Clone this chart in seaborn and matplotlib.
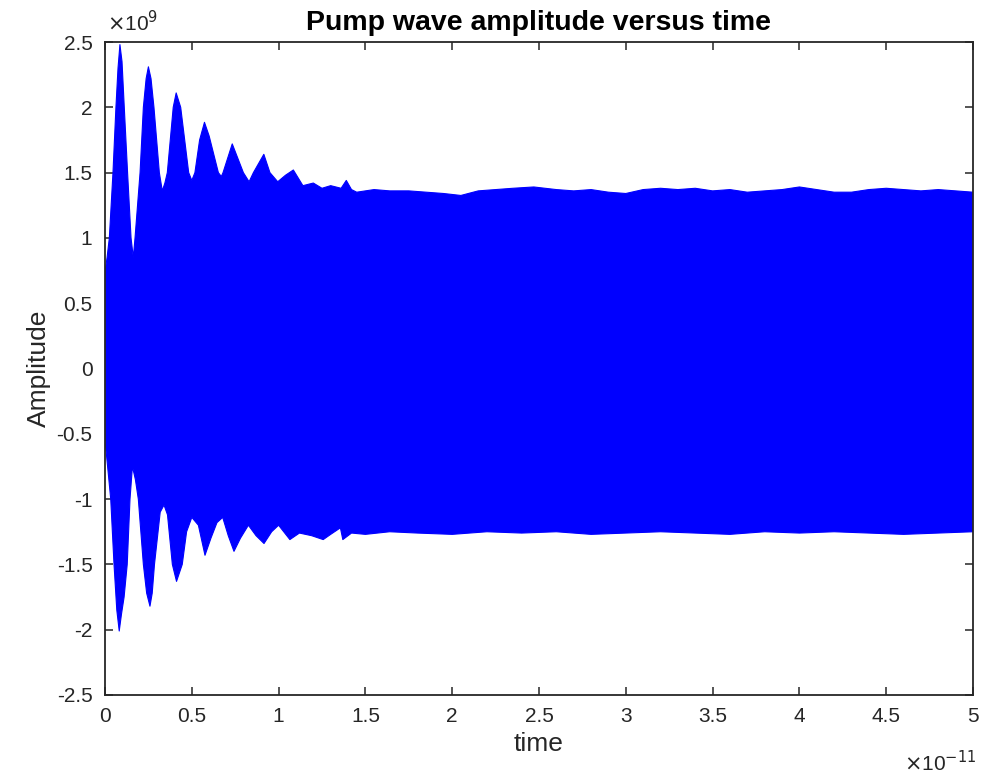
import matplotlib
matplotlib.use("Agg")
import matplotlib.pyplot as plt
import seaborn as sns
import numpy as np
import pandas as pd

# time in units of 1e-11 s, amplitude in units of 1e9 (envelope)
t_upper = [0.00, 0.012, 0.025, 0.046, 0.063, 0.075, 0.086, 0.098, 0.111, 0.13, 0.15, 0.163,
           0.173, 0.202, 0.221, 0.237, 0.25, 0.265, 0.282, 0.313, 0.33, 0.345, 0.359, 0.393,
           0.41, 0.436, 0.482, 0.50, 0.518, 0.545, 0.573, 0.60, 0.653, 0.67, 0.68, 0.733,
           0.797, 0.83, 0.855, 0.915, 0.95, 0.995, 1.04, 1.085, 1.14, 1.20, 1.25,
           1.30, 1.36, 1.39, 1.42, 1.45, 1.55, 1.64, 1.75, 1.85, 1.95, 2.05, 2.15,
           2.25, 2.35, 2.47, 2.60, 2.70, 2.80, 2.90, 3.00, 3.10, 3.20, 3.30, 3.40,
           3.50, 3.60, 3.70, 3.80, 3.90, 4.00, 4.10, 4.20, 4.30, 4.40, 4.50, 4.60,
           4.70, 4.80, 4.90, 5.00]
upper = [0.74, 0.85, 1.00, 1.50, 2.00, 2.30, 2.48, 2.35, 2.00, 1.50, 1.00, 0.85,
         1.00, 1.50, 2.00, 2.22, 2.31, 2.22, 2.00, 1.50, 1.36, 1.42, 1.50, 2.00,
         2.11, 2.00, 1.50, 1.44, 1.50, 1.75, 1.885, 1.78, 1.50, 1.47, 1.50, 1.72,
         1.50, 1.43, 1.50, 1.64, 1.50, 1.43, 1.48, 1.52, 1.40, 1.42, 1.38,
         1.40, 1.38, 1.44, 1.37, 1.35, 1.37, 1.36, 1.36, 1.35, 1.34, 1.325, 1.36,
         1.37, 1.38, 1.39, 1.37, 1.36, 1.37, 1.35, 1.34, 1.37, 1.38, 1.37, 1.38,
         1.36, 1.37, 1.35, 1.36, 1.37, 1.39, 1.37, 1.35, 1.35, 1.37, 1.38, 1.37,
         1.36, 1.37, 1.36, 1.35]

t_lower = [0.00, 0.015, 0.033, 0.052, 0.068, 0.082, 0.095, 0.11, 0.128, 0.144, 0.158, 0.175,
           0.192, 0.221, 0.24, 0.259, 0.272, 0.285, 0.318, 0.34, 0.36, 0.388, 0.412, 0.445,
           0.47, 0.50, 0.538, 0.576, 0.61, 0.645, 0.678, 0.71, 0.743, 0.78, 0.826, 0.87,
           0.916, 0.96, 1.00, 1.065, 1.12, 1.19, 1.257, 1.30, 1.356, 1.37, 1.42, 1.50,
           1.64, 1.80, 2.00, 2.20, 2.40, 2.60, 2.80, 3.00, 3.20, 3.40, 3.60, 3.80,
           4.00, 4.20, 4.40, 4.60, 4.80, 5.00]
lower = [-0.55, -0.75, -1.00, -1.50, -1.85, -2.01, -1.88, -1.75, -1.50, -1.00, -0.75, -0.85,
         -1.00, -1.50, -1.72, -1.82, -1.72, -1.50, -1.10, -1.045, -1.12, -1.50, -1.63, -1.50,
         -1.25, -1.14, -1.20, -1.43, -1.30, -1.18, -1.14, -1.28, -1.40, -1.30, -1.20, -1.28,
         -1.34, -1.25, -1.20, -1.31, -1.26, -1.28, -1.31, -1.27, -1.22, -1.31, -1.26, -1.27,
         -1.25, -1.26, -1.27, -1.25, -1.26, -1.25, -1.27, -1.26, -1.25, -1.26, -1.27, -1.25,
         -1.26, -1.25, -1.26, -1.27, -1.26, -1.25]

x_ticks = [0, 0.5, 1, 1.5, 2, 2.5, 3, 3.5, 4, 4.5, 5]
x_tick_labels = ["0", "0.5", "1", "1.5", "2", "2.5", "3", "3.5", "4", "4.5", "5"]
y_ticks = [-2.5, -2, -1.5, -1, -0.5, 0, 0.5, 1, 1.5, 2, 2.5]
y_tick_labels = ["-2.5", "-2", "-1.5", "-1", "-0.5", "0", "0.5", "1", "1.5", "2", "2.5"]

sns.set_theme(style="white")
plt.rcParams["font.family"] = ["Liberation Sans", "DejaVu Sans"]
plt.rcParams["axes.unicode_minus"] = False

fig = plt.figure(figsize=(9.83, 7.78), dpi=100)
ax = fig.add_axes([105 / 983, 1 - 695 / 778, 868 / 983, 653 / 778])

blue = "#0000FF"
poly_t = list(t_upper) + list(t_lower[::-1])
poly_a = list(upper) + list(lower[::-1])
ax.fill(poly_t, poly_a, color=blue, lw=0)

df_u = pd.DataFrame({"t": t_upper, "a": upper})
df_l = pd.DataFrame({"t": t_lower, "a": lower})
sns.lineplot(data=df_u, x="t", y="a", ax=ax, color=blue, lw=0.8, estimator=None, sort=False)
sns.lineplot(data=df_l, x="t", y="a", ax=ax, color=blue, lw=0.8, estimator=None, sort=False)

ax.set_xlim(0, 5)
ax.set_ylim(-2.5, 2.5)
ax.set_xticks(x_ticks)
ax.set_xticklabels(x_tick_labels)
ax.set_yticks(y_ticks)
ax.set_yticklabels(y_tick_labels)

edge = "#262626"
for s in ax.spines.values():
    s.set_visible(True)
    s.set_color(edge)
    s.set_linewidth(1.3)
ax.tick_params(axis="both", which="both", direction="in", top=True, right=True,
               bottom=True, left=True, length=6, width=1.1, color=edge,
               labelsize=15, labelcolor=edge)
ax.tick_params(axis="x", pad=9)
ax.tick_params(axis="y", pad=9)

ax.set_xlabel("time", fontsize=19, color=edge, labelpad=4)
ax.set_ylabel("Amplitude", fontsize=19, color=edge, labelpad=4)
ax.set_title("Pump wave amplitude versus time", fontsize=20.5, fontweight="bold",
             color="black", pad=9)

fig.text(107 / 983, 1 - 31 / 778, r"$\times$10$^{9}$", fontsize=15, color=edge,
         ha="left", va="baseline")
fig.text(976 / 983, 1 - 771 / 778, r"$\times$10$^{-11}$", fontsize=15, color=edge,
         ha="right", va="baseline")

fig.savefig("out.png", dpi=100)
